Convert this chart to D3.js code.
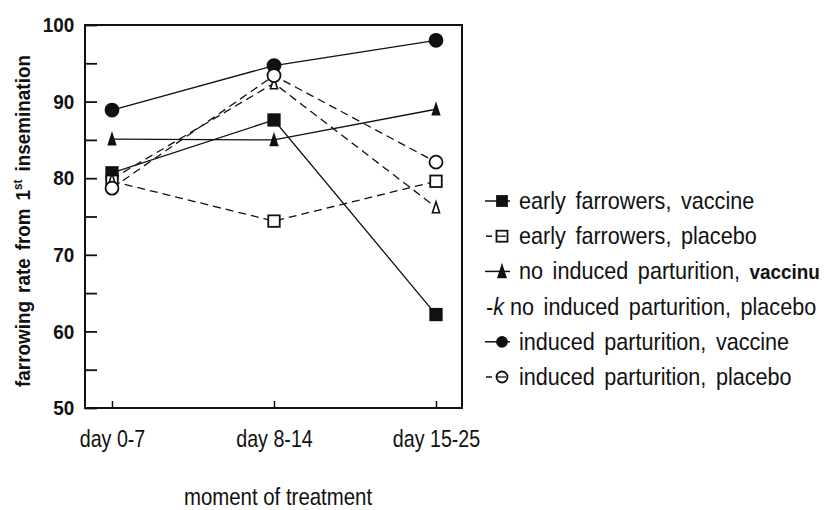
<!DOCTYPE html>
<html>
<head>
<meta charset="utf-8">
<script src="https://cdn.jsdelivr.net/npm/d3@7"></script>
<style>
  body { margin: 0; background: #fff; }
  svg { display: block; }
  text { font-family: "Liberation Sans", Arial, sans-serif; fill: #111; }
</style>
</head>
<body>
<svg id="chart"></svg>
<script>
const days = ['day 0-7', 'day 8-14', 'day 15-25'];
const yTicks = [50, 55, 60, 65, 70, 75, 80, 85, 90, 95, 100];

const earlyVaccine = [80.7, 87.6, 62.2];
const earlyPlacebo = [79.6, 74.4, 79.6];
const noIndVaccine = [85.1, 85.0, 89.0];
const noIndPlacebo = [79.9, 92.4, 76.2];
const indVaccine = [88.9, 94.7, 98.0];
const indPlacebo = [78.7, 93.4, 82.1];

const series = [
  { values: earlyVaccine, shape: 'square', filled: true, dashed: false },
  { values: earlyPlacebo, shape: 'square', filled: false, dashed: true },
  { values: noIndVaccine, shape: 'triangle', filled: true, dashed: false },
  { values: noIndPlacebo, shape: 'triangle', filled: false, dashed: true },
  { values: indVaccine, shape: 'circle', filled: true, dashed: false },
  { values: indPlacebo, shape: 'circle', filled: false, dashed: true }
];

// legend text as printed in the figure
const legendLabels = [
  'early farrowers, vaccine',
  'early farrowers, placebo',
  'no induced parturition, ',
  'no induced parturition, placebo',
  'induced parturition, vaccine',
  'induced parturition, placebo'
];

const width = 826, height = 510;
const margin = { top: 25, left: 85, right: 364, bottom: 102 };
const innerWidth = width - margin.left - margin.right;
const innerHeight = height - margin.top - margin.bottom;

const svg = d3.select('#chart').attr('width', width).attr('height', height);
const g = svg.append('g').attr('transform', `translate(${margin.left},${margin.top})`);

const x = d3.scalePoint().domain(days).range([27, 351]);
const y = d3.scaleLinear().domain([50, 100]).range([innerHeight, 0]);

// frame
g.append('rect')
  .attr('x', 0).attr('y', 0)
  .attr('width', innerWidth).attr('height', innerHeight)
  .attr('fill', 'none').attr('stroke', '#111').attr('stroke-width', 2);

// y axis (ticks point inward)
const yAxis = g.append('g')
  .call(d3.axisLeft(y).tickValues(yTicks).tickSizeInner(-12).tickSizeOuter(0).tickPadding(12)
    .tickFormat(d => d % 10 === 0 ? d : ''));
yAxis.select('.domain').remove();
yAxis.selectAll('line').attr('stroke', '#111').attr('stroke-width', 1.8);
yAxis.selectAll('text')
  .attr('font-size', 21).attr('font-weight', 'bold')
  .attr('font-family', '"Liberation Sans", Arial, sans-serif')
  .attr('fill', '#111')
  .attr('transform', 'scale(0.9,1)');

// x axis
const xAxis = g.append('g')
  .attr('transform', `translate(0,${innerHeight})`)
  .call(d3.axisBottom(x).tickSizeInner(-7).tickSizeOuter(0));
xAxis.select('.domain').remove();
xAxis.selectAll('line').attr('stroke', '#111').attr('stroke-width', 1.5);
xAxis.selectAll('text')
  .attr('y', 39).attr('dy', 0)
  .attr('font-size', 24)
  .attr('font-family', '"Liberation Sans", Arial, sans-serif')
  .attr('fill', '#111')
  .attr('transform', 'scale(0.82,1)');

// axis titles
svg.append('text')
  .attr('transform', 'translate(30,221) rotate(-90) scale(0.9,1)')
  .attr('text-anchor', 'middle')
  .attr('font-size', 21).attr('font-weight', 'bold')
  .attr('word-spacing', 3)
  .call(t => {
    t.append('tspan').text('farrowing rate from 1');
    t.append('tspan').attr('font-size', 13).attr('dy', -8).text('st');
    t.append('tspan').attr('dy', 8).text(' insemination');
  });

svg.append('text')
  .attr('transform', 'translate(278,505) scale(0.85,1)')
  .attr('text-anchor', 'middle')
  .attr('font-size', 24)
  .text('moment of treatment');

function drawMarker(sel, d, size) {
  const fill = d.filled ? '#111' : (d.legend ? 'none' : '#fff');
  if (d.shape === 'square') {
    sel.append('rect')
      .attr('x', -size / 2).attr('y', -size / 2)
      .attr('width', size).attr('height', size)
      .attr('fill', fill).attr('stroke', '#111').attr('stroke-width', 1.8);
  } else if (d.shape === 'circle') {
    sel.append('circle').attr('r', size / 2)
      .attr('fill', fill).attr('stroke', '#111').attr('stroke-width', 1.8);
  } else {
    const w = size * 0.65, h = size;
    sel.append('path')
      .attr('d', `M0,${-h / 2}L${w / 2},${h / 2}L${-w / 2},${h / 2}Z`)
      .attr('fill', fill).attr('stroke', '#111').attr('stroke-width', 1.6);
  }
}

const line = d3.line().x((v, i) => x(days[i])).y(v => y(v));

series.forEach(s => {
  g.append('path')
    .attr('d', line(s.values))
    .attr('fill', 'none')
    .attr('stroke', '#111')
    .attr('stroke-width', 1.3)
    .attr('stroke-dasharray', s.dashed ? '8,5' : null);
});

series.forEach(s => {
  s.values.forEach((v, i) => {
    const m = g.append('g').attr('transform', `translate(${x(days[i])},${y(v)})`);
    const size = s.shape === 'circle' ? 13 : s.shape === 'square' ? 11.5 : 11;
    drawMarker(m, s, size);
  });
});

// legend
const legend = svg.append('g');
series.forEach((s, i) => {
  const cy = 201 + i * 35.2;
  const row = legend.append('g').attr('transform', `translate(0,${cy})`);
  let textX = 519;
  if (i === 3) {
    row.append('text')
      .attr('transform', 'translate(486,8) scale(0.9,1)')
      .attr('font-size', 24).text('-')
      .append('tspan').attr('font-style', 'italic').text('k');
    textX = 510;
  } else if (s.dashed) {
    row.append('line').attr('x1', 486).attr('x2', 492)
      .attr('stroke', '#111').attr('stroke-width', 1.5);
    row.append('line').attr('x1', 497).attr('x2', 506)
      .attr('stroke', '#111').attr('stroke-width', 1.3);
    drawMarker(row.append('g').attr('transform', 'translate(502,0)'),
      Object.assign({ legend: true }, s), 11);
  } else {
    row.append('line').attr('x1', 485).attr('x2', 510)
      .attr('stroke', '#111').attr('stroke-width', 1.5);
    drawMarker(row.append('g').attr('transform', 'translate(502,0)'),
      Object.assign({ legend: true }, s), s.shape === 'triangle' ? 12 : 10);
  }
  const t = row.append('text')
    .attr('transform', `translate(${textX},8) scale(0.9,1)`)
    .attr('font-size', 24)
    .attr('word-spacing', 4)
    .text(legendLabels[i]);
  if (i === 2) {
    t.append('tspan').attr('font-weight', 'bold').attr('font-size', 21)
      .attr('word-spacing', 0).text('vaccinu');
  }
});
</script>
</body>
</html>
